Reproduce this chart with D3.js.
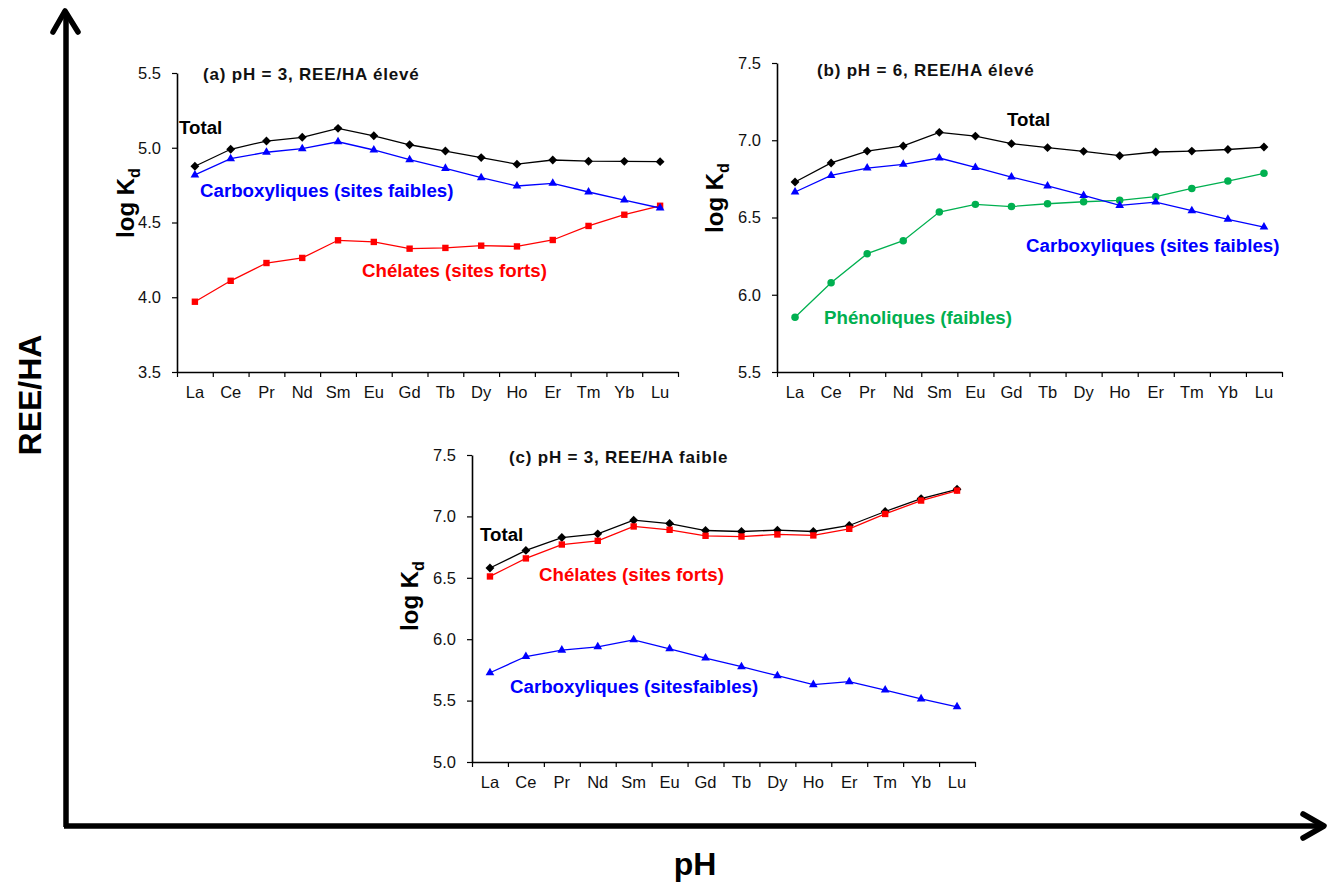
<!DOCTYPE html>
<html><head><meta charset="utf-8">
<script src="https://cdn.jsdelivr.net/npm/d3@7"></script>
<style>
body{margin:0;background:#fff}
text{font-family:"Liberation Sans",Arial,Helvetica,sans-serif}
</style>
</head><body>
<svg id="chart" width="1333" height="885"></svg>
<script>
// ---------- DATA ----------
const elements = ["La","Ce","Pr","Nd","Sm","Eu","Gd","Tb","Dy","Ho","Er","Tm","Yb","Lu"];

// (a) pH = 3, REE/HA élevé
const aTotal   = [4.876,4.990,5.045,5.070,5.130,5.080,5.020,4.978,4.934,4.890,4.918,4.910,4.909,4.907];
const aCarbox  = [4.818,4.927,4.970,4.994,5.040,4.985,4.920,4.862,4.800,4.744,4.762,4.704,4.650,4.597];
const aChelate = [3.970,4.110,4.229,4.263,4.381,4.370,4.325,4.330,4.345,4.340,4.383,4.477,4.552,4.612];

// (b) pH = 6, REE/HA élevé
const bTotal   = [6.730,6.853,6.930,6.963,7.051,7.027,6.978,6.952,6.928,6.900,6.924,6.930,6.940,6.956];
const bCarbox  = [6.665,6.772,6.820,6.844,6.885,6.824,6.762,6.704,6.643,6.578,6.600,6.544,6.488,6.438];
const bPhenol  = [5.854,6.078,6.266,6.350,6.535,6.585,6.571,6.589,6.602,6.611,6.635,6.688,6.736,6.786];

// (c) pH = 3, REE/HA faible
const cTotal   = [6.580,6.723,6.828,6.858,6.969,6.942,6.885,6.877,6.888,6.877,6.926,7.040,7.145,7.221];
const cChelate = [6.511,6.658,6.771,6.801,6.918,6.891,6.842,6.836,6.853,6.845,6.899,7.020,7.129,7.210];
const cCarbox  = [5.727,5.859,5.911,5.938,5.995,5.922,5.846,5.776,5.703,5.630,5.654,5.586,5.514,5.449];

const yTicksA = [3.5,4.0,4.5,5.0,5.5];
const yTicksB = [5.5,6.0,6.5,7.0,7.5];
const yTicksC = [5.0,5.5,6.0,6.5,7.0,7.5];

const titles = ["(a) pH = 3, REE/HA élevé","(b) pH = 6, REE/HA élevé","(c) pH = 3, REE/HA faible"];
const seriesNames = {
  total:"Total",
  carbox:"Carboxyliques (sites faibles)",
  carboxC:"Carboxyliques (sitesfaibles)",
  chelate:"Chélates (sites forts)",
  phenol:"Phénoliques (faibles)"
};
const yAxisTitle = "log K";
const yAxisSub = "d";
const bigYTitle = "REE/HA";
const bigXTitle = "pH";

// ---------- STYLE ----------
const COL = {black:"#000000", blue:"#0000FF", red:"#FF0000", green:"#00B050"};
const svg = d3.select("#chart");

const panels = [
  { box:{x0:177,x1:678,y0:73,y1:372}, domain:[3.5,5.5], ticks:yTicksA, title:titles[0], tpos:[203,80],
    ylab:[134,203],
    series:[
      {v:aTotal, c:COL.black, s:d3.symbolDiamond2, size:50},
      {v:aChelate, c:COL.red, s:d3.symbolSquare2, size:52},
      {v:aCarbox, c:COL.blue, s:d3.symbolTriangle2, size:54}],
    labels:[
      {t:seriesNames.total, c:COL.black, x:179, y:134},
      {t:seriesNames.carbox, c:COL.blue, x:200, y:197},
      {t:seriesNames.chelate, c:COL.red, x:362, y:277}]},
  { box:{x0:777,x1:1282,y0:63,y1:372}, domain:[5.5,7.5], ticks:yTicksB, title:titles[1], tpos:[817,76],
    ylab:[723,198],
    series:[
      {v:bTotal, c:COL.black, s:d3.symbolDiamond2, size:50},
      {v:bPhenol, c:COL.green, s:d3.symbolCircle, size:44},
      {v:bCarbox, c:COL.blue, s:d3.symbolTriangle2, size:54}],
    labels:[
      {t:seriesNames.total, c:COL.black, x:1007, y:126},
      {t:seriesNames.carbox, c:COL.blue, x:1026, y:252},
      {t:seriesNames.phenol, c:COL.green, x:824, y:324}]},
  { box:{x0:472,x1:975,y0:455,y1:762}, domain:[5.0,7.5], ticks:yTicksC, title:titles[2], tpos:[509,463],
    ylab:[418,596],
    series:[
      {v:cTotal, c:COL.black, s:d3.symbolDiamond2, size:50},
      {v:cCarbox, c:COL.blue, s:d3.symbolTriangle2, size:54},
      {v:cChelate, c:COL.red, s:d3.symbolSquare2, size:52}],
    labels:[
      {t:seriesNames.total, c:COL.black, x:480, y:541},
      {t:seriesNames.chelate, c:COL.red, x:539, y:581},
      {t:seriesNames.carboxC, c:COL.blue, x:510, y:693}]}
];

panels.forEach(p => {
  const g = svg.append("g");
  const b = p.box;
  const x = d3.scaleBand().domain(elements).range([b.x0,b.x1]).paddingInner(0).paddingOuter(0);
  const xi = d3.scaleLinear().domain([0,elements.length]).range([b.x0,b.x1]);
  const y = d3.scaleLinear().domain(p.domain).range([b.y1,b.y0]);
  const cx = d => x(d) + x.bandwidth()/2;

  // y axis
  const ya = g.append("g").attr("transform",`translate(${b.x0},0)`)
    .call(d3.axisLeft(y).tickValues(p.ticks).tickFormat(d3.format(".1f")).tickSize(5).tickPadding(11).tickSizeOuter(0));
  ya.select(".domain").attr("stroke","#000").attr("stroke-width",1.6);
  ya.selectAll(".tick line").attr("stroke","#000").attr("stroke-width",1.2);
  ya.selectAll(".tick text").attr("font-size",16.5).attr("fill","#111")
    .attr("font-family",'"Liberation Sans",Arial,sans-serif');

  // x axis: labels
  const xa = g.append("g").attr("transform",`translate(0,${b.y1})`)
    .call(d3.axisBottom(x).tickSize(0).tickPadding(14));
  xa.select(".domain").remove();
  xa.selectAll(".tick text").attr("font-size",16.5).attr("fill","#111")
    .attr("font-family",'"Liberation Sans",Arial,sans-serif');
  // x axis: line + boundary ticks
  const xb = g.append("g").attr("transform",`translate(0,${b.y1})`)
    .call(d3.axisBottom(xi).tickValues(d3.range(elements.length+1)).tickFormat("").tickSize(5).tickSizeOuter(0));
  xb.select(".domain").attr("stroke","#000").attr("stroke-width",1.6);
  xb.selectAll(".tick line").attr("stroke","#000").attr("stroke-width",1.2);

  // series
  p.series.forEach(s => {
    const line = d3.line().x((d,i)=>cx(elements[i])).y(d=>y(d));
    g.append("path").datum(s.v).attr("d",line).attr("fill","none")
      .attr("stroke",s.c).attr("stroke-width",1.3);
    const sym = d3.symbol().type(s.s).size(s.size);
    g.selectAll(null).data(s.v).enter().append("path")
      .attr("d",sym)
      .attr("transform",(d,i)=>`translate(${cx(elements[i])},${y(d)})`)
      .attr("fill",s.c).attr("stroke","none");
  });

  // title
  g.append("text").attr("x",p.tpos[0]).attr("y",p.tpos[1]).text(p.title)
    .attr("font-size",17).attr("font-weight","bold").attr("letter-spacing","0.8px").attr("fill","#111");

  // series labels
  p.labels.forEach(l => {
    g.append("text").attr("x",l.x).attr("y",l.y).text(l.t)
      .attr("font-size",18.7).attr("font-weight","bold").attr("fill",l.c);
  });

  // y axis title
  const yt = g.append("text").attr("transform",`translate(${p.ylab[0]},${p.ylab[1]}) rotate(-90)`)
    .attr("text-anchor","middle").attr("font-size",24).attr("font-weight","bold").attr("fill","#000");
  yt.append("tspan").text(yAxisTitle);
  yt.append("tspan").text(yAxisSub).attr("font-size",16).attr("dy",6);
});

// ---------- BIG AXES ----------
const big = svg.append("g").attr("stroke","#000").attr("stroke-width",5.5).attr("fill","none")
  .attr("stroke-linecap","round").attr("stroke-linejoin","round");
big.append("path").attr("d","M66,827 L66,12").attr("stroke-linecap","butt");
big.append("path").attr("d","M53,32 L65,11 L78,32");
big.append("path").attr("d","M64,826 L1322,826").attr("stroke-linecap","butt");
big.append("path").attr("d","M1303,814 L1324,826 L1303,838");

svg.append("text").attr("transform","translate(41,395) rotate(-90)").attr("text-anchor","middle")
  .attr("font-size",32).attr("font-weight","bold").attr("fill","#000").text(bigYTitle);
svg.append("text").attr("x",695).attr("y",875).attr("text-anchor","middle")
  .attr("font-size",32).attr("font-weight","bold").attr("fill","#000").text(bigXTitle);
</script>
</body></html>
